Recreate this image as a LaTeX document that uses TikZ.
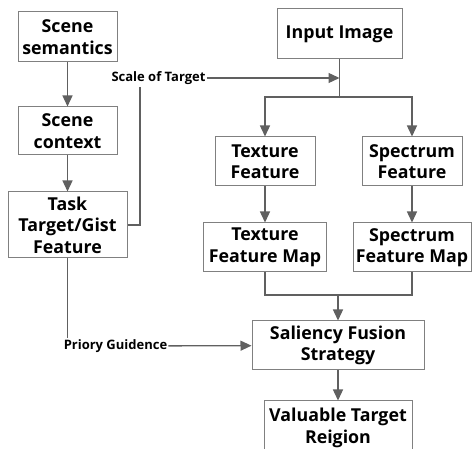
\documentclass[tikz,border=0pt]{standalone}
\usepackage{fontspec}
\setmainfont{Open Sans}
\usetikzlibrary{arrows.meta}
\definecolor{liniengrau}{RGB}{96,96,96}
\definecolor{kastengrau}{RGB}{128,128,128}

\begin{document}
\begin{tikzpicture}[x=1pt, y=-1pt, >={Triangle[length=11pt,width=10pt]},
		font=\bfseries\fontsize{17.8}{21.5}\selectfont,
		box/.style={draw=kastengrau, line width=1pt, align=center, inner sep=0pt},
		pfeil/.style={->, draw=liniengrau, line width=1.3pt},
		linie/.style={draw=liniengrau, line width=1.3pt},
		marke/.style={font=\bfseries\fontsize{13}{15}\selectfont, inner sep=1pt}]
				%Bildbereich
				\useasboundingbox (0,0) rectangle (472,449);
				% Kaesten links
				\node[box, minimum width=99pt, minimum height=50pt] (sem) at (67.5,37) {Scene\\semantics};
				\node[box, minimum width=99pt, minimum height=48pt] (ctx) at (67.5,131) {Scene\\context};
				\node[box, minimum width=119pt, minimum height=66pt] (task) at (67.5,225) {Task\\Target/Gist\\Feature};
				% Kaesten rechts
				\node[box, minimum width=125pt, minimum height=50pt] (inp) at (339.5,34) {Input Image};
				\node[box, minimum width=100pt, minimum height=49pt] (tex) at (265,161.5) {Texture\\Feature};
				\node[box, minimum width=100pt, minimum height=49pt] (spe) at (412,161.5) {Spectrum\\Feature};
				\node[box, minimum width=123pt, minimum height=49pt] (texmap) at (265,247.5) {Texture\\Feature Map};
				\node[box, minimum width=118pt, minimum height=49pt] (spemap) at (412,247.5) {Spectrum\\Feature Map};
				\node[box, minimum width=172pt, minimum height=49pt] (fus) at (338,345.5) {Saliency Fusion\\Strategy};
				\node[box, minimum width=148pt, minimum height=54pt] (val) at (338,428) {Valuable Target\\Reigion};
				% Beschriftung
				\node[marke] (scale) at (158.5,78) {Scale of Target};
				\node[marke] (prior) at (115.5,346) {Priory Guidence};
				% Hilfspunkte
				\coordinate (knick) at (140,87);
				\coordinate (split) at (339.5,97);
				\coordinate (join) at (338,295);
				% Pfeile links
				\draw[pfeil] (sem) -- (ctx);
				\draw[pfeil] (ctx) -- (task);
				\draw[linie] (task.east) -| (knick);
				\draw[linie] (task.south) -- (task.south |- prior.north);
				\draw[pfeil] (scale.east) -- (scale.east -| inp.south);
				\draw[pfeil] (prior) -- (fus);
				% Pfeile rechts
				\draw[linie] (inp.south) -- (split);
				\draw[pfeil] (split) -| (tex.north);
				\draw[pfeil] (split) -| (spe.north);
				\draw[pfeil] (tex) -- (texmap);
				\draw[pfeil] (spe) -- (spemap);
				\draw[linie] (texmap.south) |- (join);
				\draw[linie] (spemap.south) |- (join);
				\draw[pfeil] (join) -- (fus);
				\draw[pfeil] (fus) -- (val);
		\end{tikzpicture}
\end{document}
